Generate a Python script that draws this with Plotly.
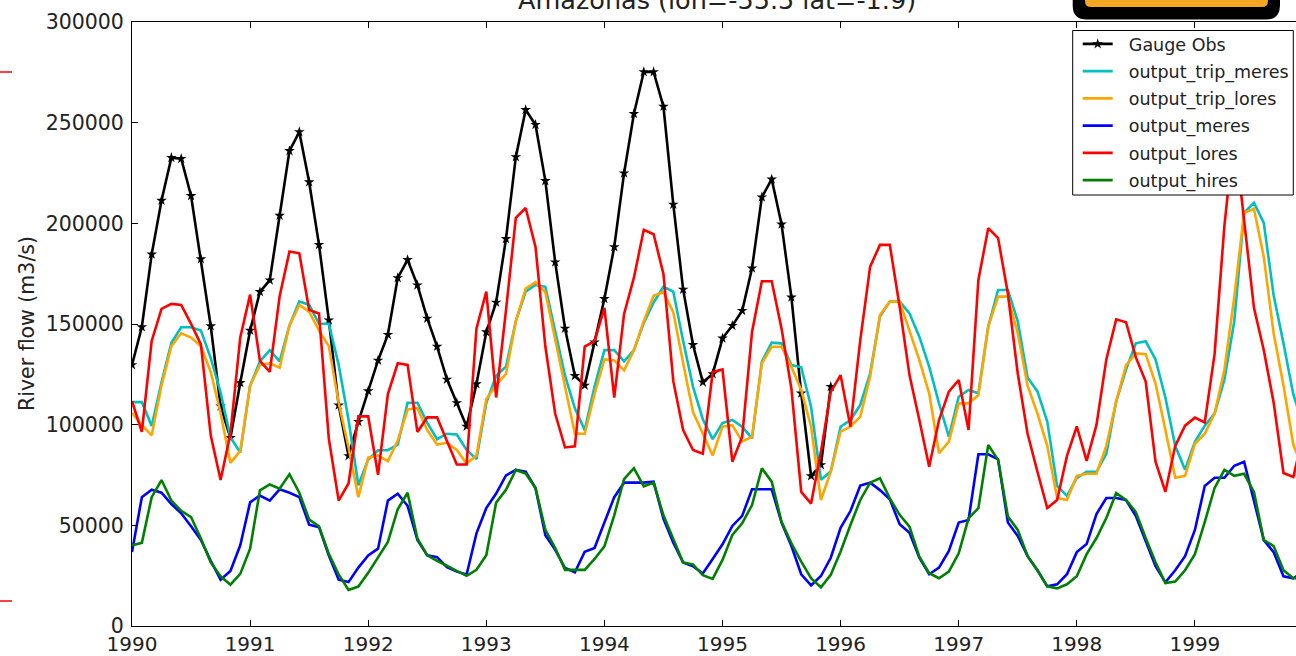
import numpy as np
import plotly.graph_objects as go

# Monthly river flow (m3/s), Jan 1990 - Dec 1999
start_year = 1990
n_months = 120

gauge_obs = [
    129700, 148500, 184600, 211300, 232600, 232100, 213700, 182300, 149000, 109200, 93500, 120800,
    146800, 166000, 171800, 203900, 236000, 245400, 220500, 189400, 151900, 109600, 84500, 101500,
    116700, 131900, 144700, 172900, 181900, 169300, 152800, 138800, 122500, 110800, 99100, 120200,
    146000, 160700, 192300, 233000, 256400, 249000, 221100, 180700, 147800, 124300, 119500, 141000,
    162500, 188300, 224900, 254400, 275200, 275200, 258000, 209400, 167200, 139700, 121100, 125200,
    142900, 149200, 156600, 177700, 213000, 221900, 199500, 163300, 115600, 74500, 80000, 118900,
] + [None] * 48

output_trip_meres = [
    111200, 111200, 99300, 121100, 140700, 148400, 148400, 146700, 133100, 116000, 93800, 86200,
    119400, 131400, 137000, 131400, 149300, 161200, 159500, 150100, 150100, 129700, 102400, 69900,
    82700, 87300, 87300, 90100, 110900, 110900, 100900, 92800, 95500, 95100, 87400, 82900,
    110800, 124300, 128800, 151400, 166100, 169400, 168500, 146900, 124300, 108100, 97300, 118900,
    137000, 137000, 131500, 137000, 150500, 160700, 168500, 166100, 141500, 118900, 102700, 92800,
    100800, 102300, 99000, 93200, 131300, 140700, 140400, 129600, 128500, 108900, 72600, 76700,
    99000, 102300, 109800, 125500, 153700, 161100, 161100, 155300, 143700, 128800, 110600, 94000,
    113900, 117200, 115600, 148700, 166900, 166900, 151300, 123400, 116500, 101500, 69600, 64600,
    73600, 76600, 76600, 85500, 111500, 127400, 140400, 141400, 132400, 113500, 89500, 77600,
    91500, 99500, 105500, 122400, 151300, 205200, 210200, 200200, 164300, 140400, 115000, 100000,
]

output_trip_lores = [
    105800, 99800, 94700, 119400, 139000, 145400, 143300, 139000, 126200, 105800, 81000, 87000,
    119400, 129700, 130500, 128300, 149300, 159500, 156100, 146700, 139000, 110900, 88700, 64000,
    83600, 84800, 81900, 92100, 107500, 108300, 97300, 90100, 91000, 87400, 80700, 84700,
    112600, 119800, 125200, 151400, 167600, 170800, 165800, 142400, 118900, 95500, 95500, 115300,
    132400, 131900, 127000, 137000, 151400, 164000, 165800, 155900, 130600, 106300, 95500, 84700,
    99000, 99800, 91600, 94000, 130500, 138700, 138700, 128800, 117200, 99000, 62600, 76700,
    96500, 99000, 104000, 123800, 154500, 161100, 161100, 147000, 132100, 115600, 85800, 91600,
    110600, 110600, 114700, 148700, 163600, 163600, 145400, 119400, 105500, 89500, 63600, 62600,
    74600, 75600, 75600, 89500, 111500, 129400, 135400, 135000, 120400, 97500, 73600, 74600,
    90500, 95500, 105500, 127400, 163300, 205200, 207200, 183300, 145400, 119400, 90000, 78000,
]

output_meres = [
    36700, 64000, 67700, 66200, 60600, 56000, 49500, 42700, 32400, 23000, 27300, 40100,
    61400, 64800, 62300, 67900, 66200, 64000, 50300, 49100, 35000, 23000, 21800, 29000,
    35000, 38400, 62300, 65700, 59700, 42700, 35100, 34200, 29200, 27000, 25600, 46000,
    58600, 65800, 74800, 77500, 76600, 68500, 45100, 37800, 28800, 26700, 36900, 38700,
    51400, 64000, 71200, 71200, 71200, 71700, 53200, 41400, 31500, 29700, 26100, 33300,
    40600, 49700, 54700, 67900, 67900, 67900, 51400, 39700, 25700, 20200, 24800, 33900,
    48800, 57100, 69800, 71200, 67500, 62900, 50500, 46300, 33900, 25700, 29000, 37300,
    51400, 52700, 85300, 85300, 82800, 51400, 44700, 34700, 27700, 19700, 20700, 25700,
    36700, 40700, 55600, 63600, 63600, 62600, 54600, 41700, 29700, 21700, 27700, 34700,
    47700, 69600, 73600, 73600, 79600, 81600, 61600, 42700, 36700, 24700, 23700, 26700,
]

output_lores = [
    111700, 96400, 141600, 157500, 160000, 159500, 150100, 139900, 94700, 72500, 95500, 143300,
    164600, 131700, 126200, 163800, 186000, 185100, 157000, 155200, 93000, 62300, 70800, 104100,
    104100, 75100, 115200, 130500, 129700, 96400, 103600, 103600, 91900, 80200, 80200, 147800,
    166100, 113500, 156800, 202700, 207600, 188300, 138800, 105400, 88700, 89200, 138800, 141500,
    158000, 113500, 155000, 173000, 196800, 194600, 174800, 121600, 97300, 87400, 85600, 126100,
    127400, 81600, 94000, 146000, 171200, 171200, 147700, 117900, 66600, 60800, 86500, 116300,
    124600, 99000, 142000, 178500, 189300, 189300, 158600, 124600, 102300, 79100, 102300, 116400,
    122200, 97400, 171900, 197600, 192700, 165000, 125400, 95500, 76600, 58600, 62600, 84500,
    99100, 82000, 99900, 132400, 152300, 150900, 133400, 121400, 81600, 66600, 89500, 99500,
    103500, 101100, 135000, 199000, 245000, 200000, 158000, 137000, 111000, 76000, 74000, 95000,
]

output_hires = [
    40100, 41300, 64000, 72500, 62300, 57200, 54100, 43500, 31600, 24700, 20500, 25900,
    38400, 67400, 70300, 68200, 75400, 66200, 52900, 49500, 35800, 25600, 17900, 19600,
    26400, 34100, 41800, 58000, 66200, 43500, 35100, 32400, 29700, 27400, 24900, 27900,
    35100, 61300, 67600, 77500, 75700, 68500, 47800, 38700, 27900, 27900, 27900, 33300,
    39600, 55000, 73000, 78400, 69400, 71200, 55000, 43200, 31500, 30600, 25200, 23400,
    32800, 45200, 51000, 60100, 78300, 71700, 51800, 41100, 32000, 23700, 19200, 25400,
    37000, 50200, 62600, 71200, 73400, 63400, 55200, 49400, 34400, 26200, 23700, 27000,
    36100, 53500, 58500, 89900, 82500, 54400, 47700, 34700, 27700, 19700, 18700, 20700,
    24700, 35700, 43700, 53600, 66000, 62600, 56600, 43700, 31700, 21300, 22100, 27700,
    35700, 51600, 68600, 77600, 74600, 75600, 66600, 42700, 39700, 27700, 23700, 23700,
]

year_ticks = [1990, 1991, 1992, 1993, 1994, 1995, 1996, 1997, 1998, 1999]
year_labels = ["1990", "1991", "1992", "1993", "1994", "1995", "1996", "1997", "1998", "1999"]
flow_ticks = [0, 50000, 100000, 150000, 200000, 250000, 300000]
flow_labels = ["0", "50000", "100000", "150000", "200000", "250000", "300000"]

title_text = "Amazonas (lon=-55.5 lat=-1.9)"
ylabel_text = "River flow (m3/s)"

# decimal-year time coordinate for each monthly value
t = start_year + np.arange(n_months) / 12.0

FONT = "DejaVu Sans"
W, H = 1296, 656
L, T, B = 132, 22, 30
PW = W - L
PH = H - T - B
x_end = start_year + PW / 118.1

# legend labels are indented a little from their line samples
INDENT = "\u00a0\u00a0"

models = [
    ("output_trip_meres", output_trip_meres, "#00BFBF"),
    ("output_trip_lores", output_trip_lores, "#FFA500"),
    ("output_meres", output_meres, "#0000FF"),
    ("output_lores", output_lores, "#FF0000"),
    ("output_hires", output_hires, "#008000"),
]

fig = go.Figure()
fig.add_trace(go.Scatter(
    x=t, y=gauge_obs, name=INDENT + "Gauge Obs", mode="lines+markers",
    line=dict(color="black", width=2.6),
    marker=dict(symbol="star", size=8, color="black"),
    connectgaps=False, legendgroup="g0",
))
for k, (name, vals, color) in enumerate(models):
    fig.add_trace(go.Scatter(
        x=t, y=vals, name=INDENT + name, mode="lines",
        line=dict(color=color, width=2.6), legendgroup=f"g{k + 1}",
    ))

def px_x(p):
    return (p - L) / PW

def px_y(p):
    return 1 - (p - T) / PH

fig.update_layout(
    width=W, height=H,
    margin=dict(l=L, r=0, t=T, b=B, pad=0),
    paper_bgcolor="white", plot_bgcolor="white",
    font=dict(family=FONT, color="black"),
    showlegend=True,
    legend=dict(
        x=px_x(1077.7), y=px_y(26), xanchor="left", yanchor="top",
        bgcolor="rgba(0,0,0,0)", borderwidth=0,
        font=dict(family=FONT, size=17.5, color="#222222"),
        tracegroupgap=1.5, itemwidth=30,
    ),
    xaxis=dict(
        range=[start_year, x_end], tickvals=year_ticks, ticktext=year_labels,
        ticks="inside", ticklen=6, tickcolor="black", tickwidth=1,
        showline=True, linecolor="black", linewidth=1, mirror="allticks",
        showgrid=False, zeroline=False,
        tickfont=dict(family=FONT, size=20, color="#222222"),
    ),
    yaxis=dict(
        range=[0, 300000], tickvals=flow_ticks, ticktext=flow_labels,
        ticks="inside", ticklen=6, tickcolor="black", tickwidth=1,
        showline=True, linecolor="black", linewidth=1,
        showgrid=False, zeroline=False, ticklabelstandoff=3,
        tickfont=dict(family=FONT, size=20.5, color="#222222"),
    ),
)

# legend frame: opaque white box with thin black border
fig.add_shape(type="rect", xref="paper", yref="paper",
              x0=px_x(1072.7), x1=px_x(1293.3), y0=px_y(195), y1=px_y(30.5),
              fillcolor="white", line=dict(color="black", width=1), layer="above")

# title sits above the frame, partly outside the canvas
fig.add_annotation(
    text=title_text, xref="paper", yref="paper",
    x=px_x(716.5), y=px_y(17), xanchor="center", yanchor="bottom",
    showarrow=False, font=dict(family=FONT, size=25.5, color="#222222"),
)
fig.add_annotation(
    text=ylabel_text, xref="paper", yref="paper",
    x=px_x(27), y=0.5, xanchor="center", yanchor="middle", textangle=-90,
    showarrow=False, font=dict(family=FONT, size=20.5, color="#222222"),
)

# rounded orange button at the top right, clipped by the window edge
def rounded_rect(x0, y0, x1, y1, r):
    return (f"M {x0 + r},{y0} L {x1 - r},{y0} Q {x1},{y0} {x1},{y0 + r} "
            f"L {x1},{y1 - r} Q {x1},{y1} {x1 - r},{y1} L {x0 + r},{y1} "
            f"Q {x0},{y1} {x0},{y1 - r} L {x0},{y0 + r} Q {x0},{y0} {x0 + r},{y0} Z")

def to_paper_path(x0, y0, x1, y1, r):
    # build path in pixel space then convert to paper coordinates
    pts = rounded_rect(x0, y0, x1, y1, r)
    out = []
    for tok in pts.split(" "):
        if "," in tok:
            a, b = tok.split(",")
            out.append(f"{px_x(float(a)):.5f},{px_y(float(b)):.5f}")
        else:
            out.append(tok)
    return " ".join(out)

fig.add_shape(type="path", xref="paper", yref="paper",
              path=to_paper_path(1072.7, -40, 1280, 19.5, 14),
              fillcolor="black", line=dict(width=0), layer="above")
fig.add_shape(type="path", xref="paper", yref="paper",
              path=to_paper_path(1085, -40, 1268, 7, 6),
              fillcolor="#F5A623", line=dict(width=0), layer="above")

# short red marks at the left edge of the window
for yy in (72, 601):
    fig.add_shape(type="line", xref="paper", yref="paper",
                  x0=px_x(0), x1=px_x(12), y0=px_y(yy), y1=px_y(yy),
                  line=dict(color="red", width=1.5))

fig.write_html("out.html")
